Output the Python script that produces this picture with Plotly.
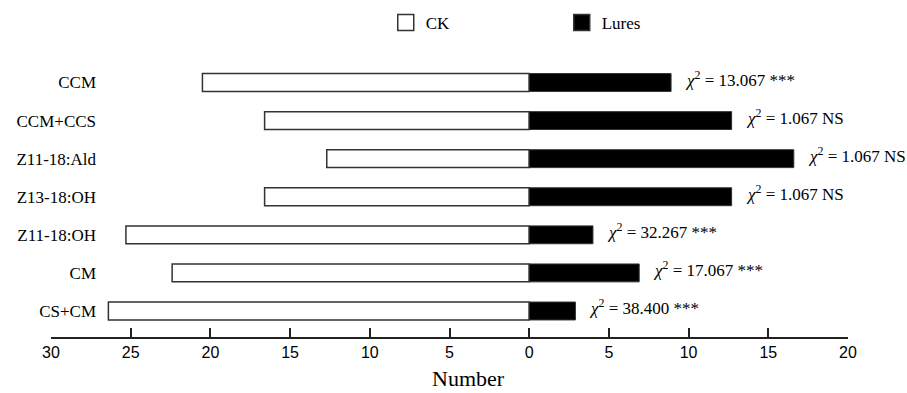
import plotly.graph_objects as go

# Treatments, listed bottom to top as they appear on the y axis
treatments = ["CS+CM", "CM", "Z11-18:OH", "Z13-18:OH", "Z11-18:Ald", "CCM+CCS", "CCM"]
ck_counts = [26.4, 22.4, 25.3, 16.6, 12.7, 16.6, 20.5]
lure_counts = [2.9, 6.9, 4.0, 12.7, 16.6, 12.7, 8.9]
chi_values = ["38.400", "17.067", "32.267", "1.067", "1.067", "1.067", "13.067"]
significance = ["***", "***", "***", "NS", "NS", "NS", "***"]

tick_values = [-30, -25, -20, -15, -10, -5, 0, 5, 10, 15, 20]
tick_labels = [str(abs(v)) for v in tick_values]

SERIF = "Liberation Serif, Times New Roman, serif"
NARROW = "Liberation Sans Narrow, Arial Narrow, Liberation Sans, sans-serif"
EDGE = "#333333"

fig = go.Figure()

# CK counts extend to the left of zero
fig.add_trace(go.Bar(
    y=treatments,
    x=[-v for v in ck_counts],
    orientation="h",
    name="CK",
    width=0.47,
    showlegend=False,
    marker=dict(color="white", line=dict(color=EDGE, width=1.5)),
    hoverinfo="skip",
))

# Lure counts extend to the right of zero
fig.add_trace(go.Bar(
    y=treatments,
    x=lure_counts,
    orientation="h",
    name="Lures",
    width=0.47,
    showlegend=False,
    marker=dict(color="black", line=dict(color=EDGE, width=1)),
    hoverinfo="skip",
))

# Legend keys with larger square swatches
for name, fill in [("CK", "white"), ("Lures", "black")]:
    fig.add_trace(go.Scatter(
        x=[None], y=[None], mode="markers", name=name,
        marker=dict(symbol="square", size=16, color=fill,
                    line=dict(color=EDGE, width=1.5)),
        hoverinfo="skip",
    ))

# Chi-square results next to each lure bar
for t, v, chi, sig in zip(treatments, lure_counts, chi_values, significance):
    fig.add_annotation(
        x=v, y=t, xref="x", yref="y",
        text=f"<i>χ</i><sup>2</sup> = {chi} {sig}",
        showarrow=False, xanchor="left", yanchor="middle", xshift=12, yshift=4,
        font=dict(family=SERIF, size=17, color="black"),
    )

# Axis title
fig.add_annotation(
    x=0.524, y=-0.152, xref="paper", yref="paper",
    text="Number", showarrow=False, xanchor="center", yanchor="middle",
    font=dict(family=SERIF, size=22, color="black"),
)

fig.update_layout(
    width=907, height=393,
    margin=dict(l=51, r=59, t=63, b=56, autoexpand=False),
    paper_bgcolor="white", plot_bgcolor="white",
    barmode="overlay",
    showlegend=True,
    legend=dict(
        orientation="h", x=0.420, y=1.146, xanchor="left", yanchor="middle",
        entrywidth=131, entrywidthmode="pixels",
        itemsizing="trace",
        font=dict(family=SERIF, size=17, color="black"),
        bgcolor="rgba(0,0,0,0)",
    ),
    xaxis=dict(
        range=[-30, 20],
        tickvals=tick_values, ticktext=tick_labels,
        showgrid=False, zeroline=False,
        showline=True, linecolor="#222222", linewidth=1.5,
        ticks="inside", ticklen=9, tickwidth=1.5, tickcolor="#222222",
        tickfont=dict(family=NARROW, size=16, color="black"),
    ),
    yaxis=dict(
        categoryorder="array", categoryarray=treatments,
        range=[-0.683, 6.512],
        anchor="free", position=0.0565,
        showgrid=False, zeroline=False, showline=False, ticks="",
        tickfont=dict(family=SERIF, size=17, color="black"),
    ),
)

fig.write_html("out.html")
